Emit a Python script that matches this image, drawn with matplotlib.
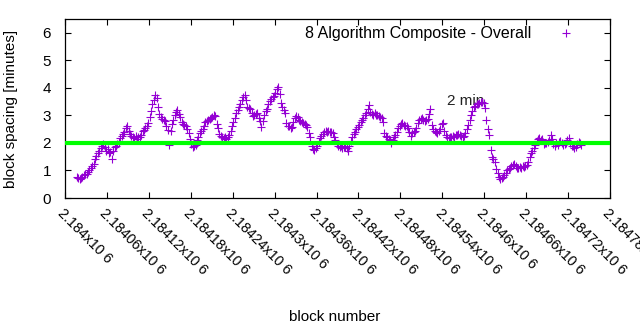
import numpy as np
import matplotlib
matplotlib.use("Agg")
import matplotlib.pyplot as plt

plt.rcParams['font.family'] = ['Liberation Sans', 'DejaVu Sans']

# First block in the series; one sample every second block
first_block = 2184017
block_step = 2

spacing_minutes = [
    0.75, 0.72, 0.70, 0.74, 0.78, 0.82, 0.86, 0.88, 0.95, 1.02,
    1.10, 1.15, 1.25, 1.40, 1.52, 1.62, 1.72, 1.80, 1.88, 1.96,
    1.85, 1.70, 1.78, 1.62, 1.66, 1.42, 1.70, 1.85, 1.88, 1.95,
    2.05, 2.18, 2.25, 2.32, 2.40, 2.55, 2.62, 2.45, 2.32, 2.25,
    2.22, 2.18, 2.25, 2.15, 2.20, 2.22, 2.30, 2.42, 2.48, 2.55,
    2.60, 2.72, 2.95, 3.15, 3.40, 3.55, 3.75, 3.62, 3.30, 3.05,
    2.95, 2.88, 2.85, 2.78, 2.60, 2.48, 1.93, 2.45, 2.68, 2.82,
    3.00, 3.12, 3.18, 3.05, 2.95, 2.75, 2.70, 2.65, 2.60, 2.52,
    2.35, 2.15, 1.95, 1.85, 1.88, 1.92, 2.10, 2.20, 2.35, 2.42,
    2.50, 2.62, 2.75, 2.80, 2.85, 2.88, 2.92, 2.95, 3.00, 2.98,
    2.70, 2.55, 2.32, 2.25, 2.20, 2.18, 2.22, 2.15, 2.20, 2.28,
    2.45, 2.60, 2.75, 2.90, 3.08, 3.20, 3.30, 3.42, 3.55, 3.65,
    3.75, 3.55, 3.30, 3.28, 3.22, 3.10, 2.98, 3.02, 3.05, 3.08,
    2.90, 2.78, 2.58, 2.80, 3.00, 3.15, 3.25, 3.40, 3.52, 3.60,
    3.65, 3.72, 3.80, 3.95, 4.02, 3.78, 3.45, 3.30, 3.18, 3.10,
    2.72, 2.62, 2.60, 2.55, 2.58, 2.75, 2.92, 2.98, 2.95, 2.82,
    2.78, 2.75, 2.72, 2.70, 2.65, 2.58, 2.35, 2.20, 1.90, 1.78,
    1.75, 1.80, 1.88, 2.05, 2.18, 2.25, 2.32, 2.38, 2.42, 2.40,
    2.42, 2.38, 2.40, 2.35, 2.22, 2.10, 1.95, 1.88, 1.85, 1.88,
    1.82, 1.85, 1.86, 1.80, 1.72, 1.90, 2.08, 2.20, 2.32, 2.40,
    2.50, 2.58, 2.65, 2.75, 2.82, 2.92, 3.00, 3.10, 3.25, 3.38,
    3.12, 3.05, 3.02, 3.08, 3.00, 3.02, 2.98, 2.95, 2.90, 2.75,
    2.35, 2.25, 2.20, 2.15, 2.10, 2.00, 2.12, 2.22, 2.30, 2.38,
    2.55, 2.62, 2.68, 2.72, 2.65, 2.60, 2.62, 2.55, 2.40, 2.25,
    2.35, 2.40, 2.45, 2.55, 2.72, 2.82, 2.88, 2.92, 2.85, 2.78,
    2.82, 2.88, 3.05, 3.25, 2.65, 2.50, 2.42, 2.38, 2.35, 2.45,
    2.52, 2.68, 2.72, 2.45, 2.30, 2.22, 2.18, 2.20, 2.22, 2.25,
    2.22, 2.28, 2.30, 2.32, 2.28, 2.25, 2.20, 2.25, 2.35, 2.50,
    2.65, 2.85, 3.02, 3.15, 3.30, 3.35, 3.40, 3.42, 3.45, 3.48,
    3.50, 3.45, 3.28, 2.85, 2.50, 2.30, 1.75, 1.50, 1.40, 1.30,
    1.05, 0.90, 0.78, 0.68, 0.72, 0.75, 0.82, 0.92, 1.00, 1.05,
    1.10, 1.18, 1.20, 1.22, 1.15, 1.10, 1.08, 1.12, 1.08, 1.15,
    1.12, 1.18, 1.20, 1.30, 1.50, 1.62, 1.72, 1.80, 1.92, 2.08,
    2.15, 2.18, 2.12, 2.15, 1.95, 2.00, 1.98, 2.05, 2.10, 2.28,
    2.15, 1.95, 1.90, 1.98, 1.92, 2.05, 2.08, 1.98, 1.92, 1.95,
    1.98, 2.10, 2.18, 2.00, 1.88, 1.90, 1.82, 1.85, 1.95, 2.05,
    1.98, 1.92,
]

target_minutes = 2
x_min, x_max = 2184000, 2184780
tick_blocks = list(range(2184000, 2184781, 60))
y_ticks = [0, 1, 2, 3, 4, 5, 6]

blocks = first_block + block_step * np.arange(len(spacing_minutes))

fig = plt.figure(figsize=(6.4, 3.3), dpi=100)
ax = fig.add_axes([65 / 640, 1 - 198 / 330, 545 / 640, 179 / 330])

ax.plot(blocks, spacing_minutes, linestyle='none', marker='+',
        markersize=6.0, markeredgewidth=0.8, color='#9400d3',
        label='8 Algorithm Composite - Overall', zorder=2)
ax.plot([x_min, x_max], [target_minutes, target_minutes],
        color='#00ff00', linewidth=3.0, solid_capstyle='butt', zorder=3)
ax.text(2184547, 3.53, '2 min', fontsize=11, va='center', ha='left',
        color='#222222', zorder=1)

ax.set_xlim(x_min, x_max)
ax.set_ylim(0, 6.5)
ax.set_yticks(y_ticks)
ax.set_yticklabels([str(v) for v in y_ticks], fontsize=11)
ax.set_xticks(tick_blocks)
ax.set_xticklabels([f"{b / 1e6:g}x10 6" for b in tick_blocks], fontsize=10.3,
                   rotation=-45, ha='left', va='top', rotation_mode='anchor')
ax.tick_params(axis='both', direction='in', length=4, width=0.8,
               top=True, right=True)
ax.tick_params(axis='y', pad=10)
ax.tick_params(axis='x', pad=6)
for s in ax.spines.values():
    s.set_linewidth(0.9)

ax.set_ylabel('block spacing [minutes]', fontsize=11)
ax.set_xlabel('block number', fontsize=11)
ax.yaxis.set_label_coords(-0.087, 0.5)
ax.xaxis.set_label_coords(0.495, -0.625)

leg = ax.legend(loc='upper right', bbox_to_anchor=(0.963, 0.96),
                frameon=False, markerfirst=False, fontsize=11.5,
                handlelength=3.0, borderaxespad=0.0, borderpad=0.0,
                handletextpad=0.68)

fig.savefig('out.png', dpi=100)
